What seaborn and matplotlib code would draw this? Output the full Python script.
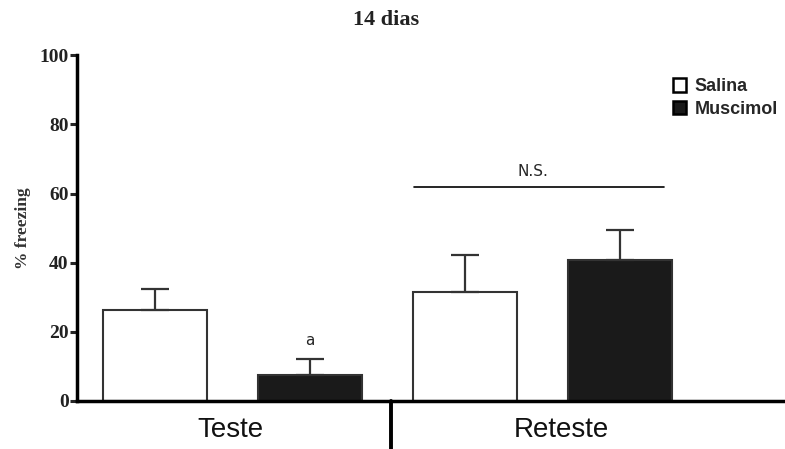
import numpy as np
import pandas as pd
import seaborn as sns
import matplotlib.pyplot as plt
from matplotlib.patches import Patch

# data
fases = ["Teste", "Reteste"]
grupos = ["Salina", "Muscimol"]
media_salina = [26.3, 31.5]
media_muscimol = [7.5, 40.8]
epm_salina = [6.1, 10.7]
epm_muscimol = [4.6, 8.6]

df = pd.DataFrame({
    "fase": fases * 2,
    "grupo": [grupos[0]] * 2 + [grupos[1]] * 2,
    "freezing": media_salina + media_muscimol,
    "epm": epm_salina + epm_muscimol,
})

sns.set_style("white")
plt.rcParams["font.family"] = ["DejaVu Sans"]

fig = plt.figure(figsize=(7.85, 4.49), dpi=100)
ax = fig.add_axes([0.098, 0.107, 0.902, 0.77])

cores = {"Salina": "white", "Muscimol": "#1a1a1a"}
sns.barplot(data=df, x="fase", y="freezing", hue="grupo", order=fases,
            hue_order=grupos, palette=cores, width=1.0, gap=0.33,
            errorbar=None, edgecolor="#333333", linewidth=1.5,
            legend=False, ax=ax)

# upper-only error bars at bar centres
for cont, g in zip(ax.containers, grupos):
    sub = df[df.grupo == g].set_index("fase").loc[fases]
    xs = [p.get_x() + p.get_width() / 2 for p in cont]
    ax.errorbar(xs, sub.freezing, yerr=[np.zeros(len(xs)), sub.epm],
                fmt="none", ecolor="#333333", elinewidth=1.6,
                capsize=10, capthick=1.6, zorder=1)

ax.set_xlim(-0.5, 1.78)
ax.set_ylim(0, 100)
ax.set_yticks([0, 20, 40, 60, 80, 100])
ax.set_yticklabels([0, 20, 40, 60, 80, 100], family="Liberation Serif",
                   fontweight="bold", fontsize=14, color="#222222")
ax.tick_params(axis="y", direction="out", length=5, width=2.2, pad=1,
               left=True)
ax.tick_params(axis="x", length=0)
ax.set_xticks([])
ax.set_xlabel("")
ax.set_ylabel("% freezing", family="Liberation Serif", fontweight="bold",
              fontsize=12.5, color="#333333", labelpad=6)

for s in ["top", "right"]:
    ax.spines[s].set_visible(False)
ax.spines["left"].set_linewidth(2.5)
ax.spines["bottom"].set_linewidth(2.5)
ax.spines["left"].set_color("black")
ax.spines["bottom"].set_color("black")

# phase labels and separator under the axis
trans = ax.get_xaxis_transform()
ax.text(-0.007, -0.083, "Teste", transform=trans, ha="center", va="center",
        fontsize=20, family="Liberation Sans", color="#111111")
ax.text(1.06, -0.083, "Reteste", transform=trans, ha="center", va="center",
        fontsize=20, family="Liberation Sans", color="#111111")
ax.plot([0.511, 0.511], [0, -0.14], transform=trans, color="black",
        lw=2.8, clip_on=False)

# significance marks
ax.text(0.25, 17.5, "a", ha="center", va="center", fontsize=11)
ax.plot([0.585, 1.389], [61.8, 61.8], color="black", lw=1.2)
ax.text(0.968, 66.3, "N.S.", ha="center", va="center", fontsize=11)

fig.text(0.492, 0.955, "14 dias", ha="center", va="center",
         family="Liberation Serif", fontweight="bold", fontsize=16,
         color="#222222")

handles = [Patch(facecolor=cores[g], edgecolor="black", linewidth=1.8)
           for g in grupos]
leg = ax.legend(handles, grupos, loc="upper right", bbox_to_anchor=(1.0, 0.955),
                frameon=False, handlelength=0.75, handleheight=0.8,
                handletextpad=0.45, labelspacing=0.3, borderaxespad=0.0,
                prop={"family": "Liberation Sans", "weight": "bold", "size": 13})

fig.savefig("out.png", dpi=100, facecolor="white")
